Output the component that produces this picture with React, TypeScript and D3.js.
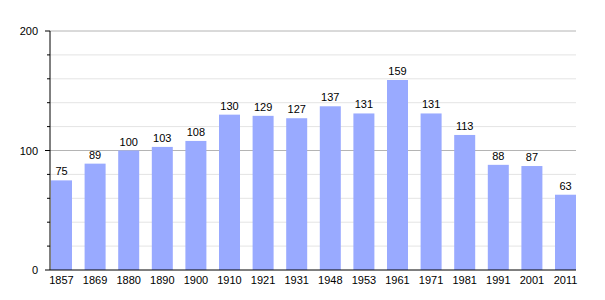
import React from "react";
import * as d3 from "d3";

const years = ["1857","1869","1880","1890","1900","1910","1921","1931","1948","1953","1961","1971","1981","1991","2001","2011"];
const population = [75,89,100,103,108,130,129,127,137,131,159,131,113,88,87,63];
const majorTicks = [0,100,200];
const minorTicks = [20,40,60,80,120,140,160,180];

export default function App() {
  const W = 605, H = 300;
  const left = 50, right = 576, top = 31, bottom = 270;
  const y = d3.scaleLinear().domain([0, 200]).range([bottom, top]);
  const x = d3.scaleBand<string>().domain(years).range([51, 576]).paddingInner(0.375).paddingOuter(0);
  const font = "'Liberation Sans', Arial, sans-serif";
  return (
    <svg width={W} height={H} style={{ position: "absolute", left: 0, top: 0 }}>
      <rect x={0} y={0} width={W} height={H} fill="#fff" />
      {minorTicks.map(t => (
        <g key={"m" + t}>
          <line x1={left} x2={right} y1={y(t)} y2={y(t)} stroke="#e4e4e4" strokeWidth={1} />
          <line x1={left - 3} x2={left} y1={y(t)} y2={y(t)} stroke="#000" strokeWidth={1} />
        </g>
      ))}
      {majorTicks.filter(t => t > 0).map(t => (
        <line key={"g" + t} x1={left} x2={right} y1={y(t)} y2={y(t)} stroke="#b4b4b4" strokeWidth={1} />
      ))}
      {years.map((yr, i) => (
        <g key={yr}>
          <rect x={x(yr)} y={y(population[i])} width={x.bandwidth()} height={bottom - y(population[i])} fill="#99aaff" />
          <text x={(x(yr) as number) + x.bandwidth() / 2} y={y(population[i]) - 5} textAnchor="middle" fontFamily={font} fontSize={11} fill="#000">{population[i]}</text>
          <text x={(x(yr) as number) + x.bandwidth() / 2} y={bottom + 14} textAnchor="middle" fontFamily={font} fontSize={11} fill="#000">{yr}</text>
        </g>
      ))}
      {majorTicks.map(t => (
        <g key={"M" + t}>
          <line x1={left - 5} x2={left} y1={y(t)} y2={y(t)} stroke="#000" strokeWidth={1} />
          <text x={38} y={y(t) + 4} textAnchor="end" fontFamily={font} fontSize={11} fill="#000">{t}</text>
        </g>
      ))}
      <line x1={left} x2={left} y1={top} y2={bottom} stroke="#000" strokeWidth={1} />
      <line x1={left} x2={right} y1={bottom} y2={bottom} stroke="#000" strokeWidth={1} />
    </svg>
  );
}
